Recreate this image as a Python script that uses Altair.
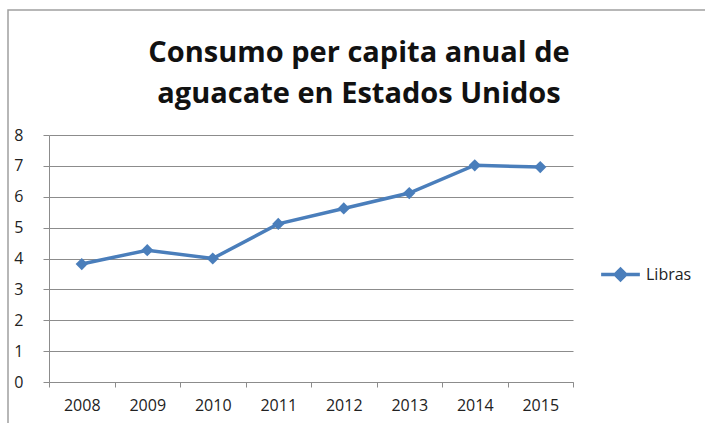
import altair as alt
import pandas as pd

years = ["2008", "2009", "2010", "2011", "2012", "2013", "2014", "2015"]
libras = [3.82, 4.27, 4.0, 5.12, 5.62, 6.12, 7.02, 6.96]
series = ["Libras"] * len(years)
y_ticks = [0, 1, 2, 3, 4, 5, 6, 7, 8]
title_lines = ["Consumo per capita anual de", "aguacate en Estados Unidos"]

df = pd.DataFrame({"Año": years, "Libras": libras, "Serie": series})

BLUE = "#4a7ebb"
GRID = "#8c8c8c"
FONT = "Open Sans"

x_enc = alt.X("Año:O", sort=years,
              scale=alt.Scale(type="band", paddingInner=0, paddingOuter=0),
              axis=alt.Axis(title=None, labelAngle=0, tickBand="extent",
                            domainColor=GRID, tickColor=GRID, tickSize=5,
                            labelPadding=10, grid=False))
y_enc = alt.Y("Libras:Q", scale=alt.Scale(domain=[0, 8], nice=False),
              axis=alt.Axis(title=None, values=y_ticks, format="d",
                            domainColor=GRID, tickColor=GRID, tickSize=6,
                            gridColor=GRID, gridWidth=1.2, labelPadding=20))
color_enc = alt.Color("Serie:N", scale=alt.Scale(domain=["Libras"], range=[BLUE]),
                      legend=alt.Legend(title=None, orient="none", legendX=550, legendY=118,
                                        symbolType="M-1,0H1M0,-0.27L0.27,0L0,0.27L-0.27,0Z",
                                        symbolSize=1500, symbolStrokeWidth=3.5,
                                        symbolFillColor=BLUE, symbolStrokeColor=BLUE,
                                        labelFont=FONT, labelFontSize=16, labelColor="#222",
                                        labelOffset=4))

line = alt.Chart(df).mark_line(strokeWidth=3.5).encode(x=x_enc, y=y_enc, color=color_enc)
pts = alt.Chart(df).mark_point(shape="diamond", filled=True, size=150, opacity=1).encode(
    x=x_enc, y=y_enc, color=alt.Color("Serie:N", scale=alt.Scale(domain=["Libras"], range=[BLUE]), legend=None))

frame_df = pd.DataFrame({"k": [0]})
frame = alt.Chart(frame_df).mark_rect(fill=None, stroke="#a0a0a0", strokeWidth=1.5).encode(
    x=alt.value(-41), x2=alt.value(700), y=alt.value(-125), y2=alt.value(320))


def title_layer(text, ypix):
    tdf = pd.DataFrame({"line": [text]})
    return alt.Chart(tdf).mark_text(font=FONT, fontSize=29, fontWeight="bold",
                                    color="#111", align="center", baseline="alphabetic").encode(
        text="line:N", x=alt.value(310), y=alt.value(ypix))


t1 = title_layer(title_lines[0], -73)
t2 = title_layer(title_lines[1], -32)

chart = alt.layer(frame, line, pts, t1, t2).properties(
    width=524, height=247,
    padding={"left": 49, "top": 135, "right": 132, "bottom": 41},
    autosize=alt.AutoSizeParams(type="none"),
).configure(background="white").configure_view(stroke=None).configure_axis(
    labelFont=FONT, labelFontSize=16, labelColor="#222"
)

chart.save("out.html", embed_options={"renderer": "svg", "actions": False})
